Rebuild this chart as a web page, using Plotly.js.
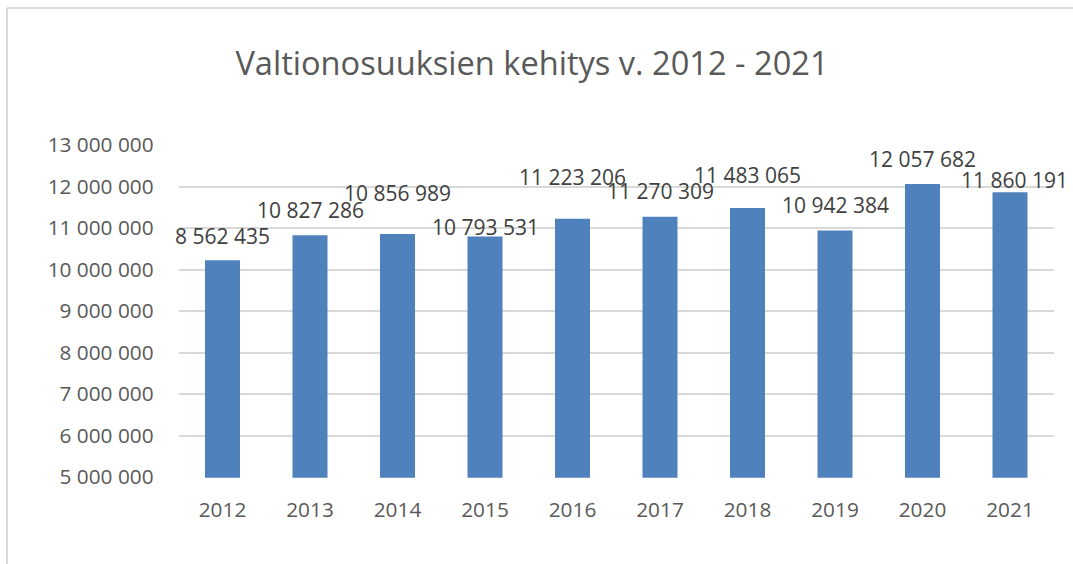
<!DOCTYPE html>
<html>
<head>
<meta charset="utf-8">
<script src="https://cdn.plot.ly/plotly-3.0.1.min.js"></script>
<style>html,body{margin:0;padding:0;background:#fff;}#chart{width:1073px;height:564px;}</style>
</head>
<body>
<div id="chart"></div>
<script>
// Data
const years = ["2012","2013","2014","2015","2016","2017","2018","2019","2020","2021"];
// Bar heights as drawn (the 2012 bar is drawn at ~10.2 M though its label reads 8 562 435)
const values = [10225000, 10827286, 10856989, 10793531, 11223206, 11270309, 11483065, 10942384, 12057682, 11860191];
// Data label texts as printed
const labels = ["8 562 435","10 827 286","10 856 989","10 793 531","11 223 206","11 270 309","11 483 065","10 942 384","12 057 682","11 860 191"];
const yTicks = [5000000, 6000000, 7000000, 8000000, 9000000, 10000000, 11000000, 12000000, 13000000];
const titleText = "Valtionosuuksien kehitys v. 2012 - 2021";

// Label placement offsets (pixels above bar top), style only
const labelYShift = [24, 25, 41, 10, 42, 26, 33, 25, 25, 12];
const labelXShift = [0, 0, 0, 0, 0, 0, 0, 0, 0, 4];

const W = 1073, H = 564;
const FONT = "Open Sans";
const TXT = "#595959";
const LBL = "#404040";
const GRID = "#d9d9d9";
const PAD = 20000; // tiny range padding so edge gridlines are drawn
const PXM = 41.5;  // pixels per million
const padPx = PAD / 1e6 * PXM;

const trace = {
  type: "bar",
  x: years,
  y: values,
  marker: {color: "#4f81bd"},
  hoverinfo: "x+y"
};

const annotations = years.map((yr, i) => ({
  x: i, y: values[i], xref: "x", yref: "y",
  text: labels[i], showarrow: false,
  xanchor: "center", yanchor: "middle",
  yshift: labelYShift[i], xshift: labelXShift[i],
  font: {family: FONT, size: 21, color: LBL}
}));

const layout = {
  width: W, height: H,
  margin: {l: 0, r: 0, t: 0, b: 0},
  paper_bgcolor: "#ffffff",
  plot_bgcolor: "#ffffff",
  separators: ", ",
  showlegend: false,
  bargap: 0.6,
  title: {
    text: titleText,
    font: {family: FONT, size: 32.6, color: TXT},
    x: 532 / W, xanchor: "center",
    y: 1 - 64 / H, yanchor: "middle",
    xref: "paper", yref: "paper"
  },
  xaxis: {
    domain: [178.75 / W, 1053.75 / W],
    type: "category",
    categoryorder: "array",
    categoryarray: years,
    range: [-0.5, years.length - 0.5],
    autorange: false,
    showgrid: false,
    showline: false,
    zeroline: false,
    ticks: "outside", ticklen: 13, tickcolor: "rgba(0,0,0,0)",
    tickfont: {family: FONT, size: 20.8, color: TXT},
    fixedrange: true
  },
  yaxis: {
    domain: [(H - 477 - padPx) / H, (H - 145 + padPx) / H],
    range: [5000000 - PAD, 13000000 + PAD],
    autorange: false,
    tickvals: yTicks,
    tickformat: ",d",
    showgrid: true, gridcolor: GRID, gridwidth: 2,
    zeroline: false, showline: false,
    ticks: "outside", ticklen: 20, tickcolor: "rgba(0,0,0,0)",
    tickfont: {family: FONT, size: 20.8, color: TXT},
    fixedrange: true
  },
  annotations: annotations,
  shapes: [
    {type: "line", xref: "paper", yref: "paper", x0: 7 / W, x1: 7 / W, y0: 0, y1: 1 - 8 / H, line: {color: GRID, width: 2}},
    {type: "line", xref: "paper", yref: "paper", x0: 7 / W, x1: 1, y0: 1 - 8 / H, y1: 1 - 8 / H, line: {color: GRID, width: 2}}
  ]
};

Plotly.newPlot("chart", [trace], layout, {displayModeBar: false, staticPlot: true});
</script>
</body>
</html>
